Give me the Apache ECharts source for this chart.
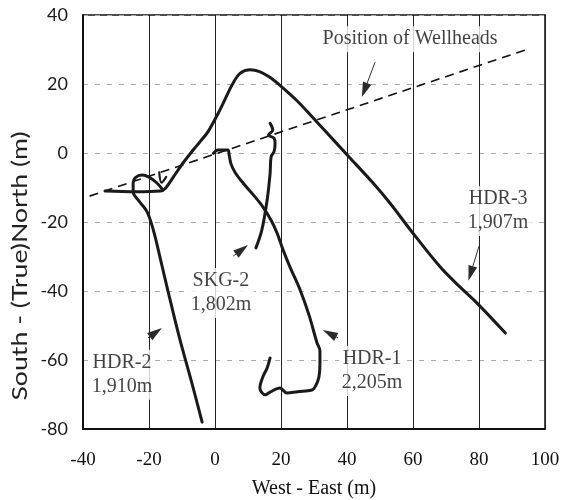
<!DOCTYPE html>
<html>
<head>
<meta charset="utf-8">
<script src="https://cdn.jsdelivr.net/npm/echarts@6/dist/echarts.min.js"></script>
<style>
  html, body { margin: 0; padding: 0; background: #fff; }
  #chart { width: 569px; height: 500px; }
</style>
</head>
<body>
<div id="chart"></div>
<script>
// Axis ranges and tick spacing (m)
const xTicks = [-40, -20, 0, 20, 40, 60, 80, 100];
const yTicks = [-80, -60, -40, -20, 0, 20, 40];

// Line through the wellhead positions
const wellheadLine = [[-38, -12.5], [94.5, 30]];

// Well trajectories in plan view (West-East, South-North), metres
const hdr3 = [
  [-33.3, -11], [-24, -11.2], [-16.5, -11], [-15, -10.2], [-12.5, -6.8],
  [-9.7, -2.9], [-6.5, 1], [-4.5, 3.3], [-2.1, 6.2], [1.5, 12.5], [4, 17.5],
  [5.5, 20.3], [7.5, 23], [10.6, 24.1], [13.5, 23.6], [16.5, 22], [20.3, 19.1],
  [25, 15], [29.7, 10.2], [33, 6.8], [40, -0.5], [47.9, -8.7], [53, -14.5],
  [59.7, -22.9], [68.2, -33], [73, -37.7], [79.4, -43.5], [88, -52.2]
];
const hdr2 = [
  [-15.8, -10.7], [-17.6, -8.7], [-20, -7], [-22.1, -6.4], [-24.2, -7.2],
  [-24.8, -8.7], [-24.8, -11.3], [-23.3, -13.6], [-20.6, -17], [-18.5, -23],
  [-16.7, -30.1], [-15, -37], [-13.6, -42.6], [-10.6, -54.2], [-7, -66.7],
  [-3.9, -78]
];
const hdr2Stub = [[-16.9, -5.6], [-16.2, -8.6], [-14.8, -6.9]];
const hdr1 = [
  [-0.5, -0.1], [0.9, 0.9], [3.9, 0.9], [4.3, -0.6], [4.8, -3], [6, -5.5],
  [8.5, -8.7], [11.5, -12], [14.5, -15.6], [17, -19.5], [18.8, -23.2],
  [20.6, -28], [22.7, -33], [25.8, -39.7], [28.5, -47], [30.9, -55],
  [31.8, -57.3], [31.8, -61], [31.5, -64.9], [30.5, -67.5], [29.4, -68.7],
  [25, -69.2], [21.8, -69.6], [19.7, -68.1], [16.7, -69.3], [15.2, -70.1],
  [13.6, -68.1], [14.5, -64.9], [15.8, -62.3], [16.7, -59.4]
];
const skg2 = [
  [16.7, 8.6], [17.5, 6.7], [16.2, 5.2], [17.9, 4.3], [18.2, 2.8],
  [17.9, 0.4], [17, -1.1], [16.7, -5.9], [15.8, -13.6], [14.2, -22.3],
  [12.4, -27.5]
];

// Pointer arrows: tail x, tail y, tip x, tip y
const pointers = [
  [48.5, 26.3, 44.5, 16.2],
  [80, -27, 76.8, -37],
  [5.5, -29.9, 10, -26.7],
  [-20.3, -53.6, -16.1, -50.7],
  [37.3, -53.6, 32.7, -51.3]
];

// Annotation texts
const wellNames = ['HDR-1', 'HDR-2', 'HDR-3', 'SKG-2'];
const wellDepths = ['2,205m', '1,910m', '1,907m', '1,802m'];
const wellheadCaption = 'Position of Wellheads';

const xTitle = 'West - East (m)';
const yTitle = 'South - (True)North (m)';

const serif = 'Liberation Serif';
const sans = 'Lato';

const chart = echarts.init(document.getElementById('chart'), null, { renderer: 'canvas' });

const wellLine = (name, data, width) => ({
  name: name,
  type: 'line',
  data: data,
  showSymbol: false,
  smooth: 0.35,
  lineStyle: { color: '#1a1a1a', width: width || 3, cap: 'round', join: 'round' },
  z: 4,
  silent: true
});

const textStyle = {
  fontFamily: serif, fontSize: 20, color: '#111', lineHeight: 24,
  backgroundColor: '#fff', padding: [1, 3], align: 'center'
};

const labelPoint = (x, y, text) => ({
  value: [x, y],
  label: Object.assign({ show: true, position: 'inside', formatter: text }, textStyle)
});

// Thin shaft with a solid wedge head, placed through the axes
function renderPointer(params, api) {
  const a = api.coord([api.value(0), api.value(1)]);
  const b = api.coord([api.value(2), api.value(3)]);
  const dx = b[0] - a[0], dy = b[1] - a[1];
  const len = Math.sqrt(dx * dx + dy * dy) || 1;
  const ux = dx / len, uy = dy / len;
  const headLen = 15, halfW = 4.5;
  const bx = b[0] - ux * headLen, by = b[1] - uy * headLen;
  const children = [{
    type: 'polygon',
    shape: { points: [b, [bx - uy * halfW, by + ux * halfW], [bx + uy * halfW, by - ux * halfW]] },
    style: { fill: '#2a2a2a' }
  }];
  if (len > headLen + 2) {
    children.push({
      type: 'line',
      shape: { x1: a[0], y1: a[1], x2: bx, y2: by },
      style: { stroke: '#333', lineWidth: 1 }
    });
  }
  return { type: 'group', children: children };
}

chart.setOption({
  animation: false,
  backgroundColor: '#fff',
  grid: {
    left: 83, right: 24, top: 15, bottom: 71,
    outerBoundsMode: 'none', containLabel: false,
    show: true, borderColor: '#111', borderWidth: 1.5
  },
  xAxis: {
    type: 'value', min: xTicks[0], max: xTicks[xTicks.length - 1], interval: 20,
    axisLine: { show: true, onZero: false, lineStyle: { color: '#111', width: 2 } },
    axisTick: { show: false },
    axisLabel: { fontFamily: serif, fontSize: 19, color: '#111', margin: 22 },
    splitLine: { show: true, lineStyle: { color: '#222', width: 1 } },
    name: xTitle, nameLocation: 'middle', nameGap: 50,
    nameTextStyle: { fontFamily: serif, fontSize: 20, color: '#111' }
  },
  yAxis: {
    type: 'value', min: yTicks[0], max: yTicks[yTicks.length - 1], interval: 20,
    axisLine: { show: true, onZero: false, lineStyle: { color: '#111', width: 2 } },
    axisTick: { show: false },
    axisLabel: { fontFamily: sans, fontSize: 18, color: '#1a1a1a', margin: 15 },
    splitLine: { show: true, lineStyle: { color: '#aaa', width: 1, type: [5, 7] } }
  },
  graphic: [{
    type: 'text',
    x: 20, y: 266,
    rotation: Math.PI / 2,
    scaleX: 1.27,
    style: {
      text: yTitle, fontFamily: sans, fontSize: 21, fill: '#222',
      align: 'center', verticalAlign: 'middle'
    }
  }],
  series: [
    {
      name: 'wellheads',
      type: 'line',
      data: wellheadLine,
      showSymbol: false,
      lineStyle: { color: '#111', width: 1.6, type: [9, 6] },
      z: 3,
      silent: true
    },
    wellLine(wellNames[2], hdr3),
    wellLine(wellNames[1], hdr2),
    wellLine(wellNames[1] + ' stub', hdr2Stub, 2.2),
    wellLine(wellNames[0], hdr1),
    wellLine(wellNames[3], skg2),
    {
      name: 'pointers',
      type: 'custom',
      renderItem: renderPointer,
      data: pointers,
      encode: { x: [0, 2], y: [1, 3] },
      z: 5,
      silent: true
    },
    {
      name: 'captions',
      type: 'scatter',
      symbolSize: 0,
      z: 6,
      silent: true,
      data: [
        labelPoint(59.1, 33.0, wellheadCaption),
        labelPoint(85.8, -16.8, wellNames[2] + '\n' + wellDepths[2]),
        labelPoint(1.8, -40.6, wellNames[3] + '\n' + wellDepths[3]),
        labelPoint(-28.2, -64.3, wellNames[1] + '\n' + wellDepths[1]),
        labelPoint(47.6, -63.2, wellNames[0] + '\n' + wellDepths[0])
      ]
    }
  ]
});
</script>
</body>
</html>
